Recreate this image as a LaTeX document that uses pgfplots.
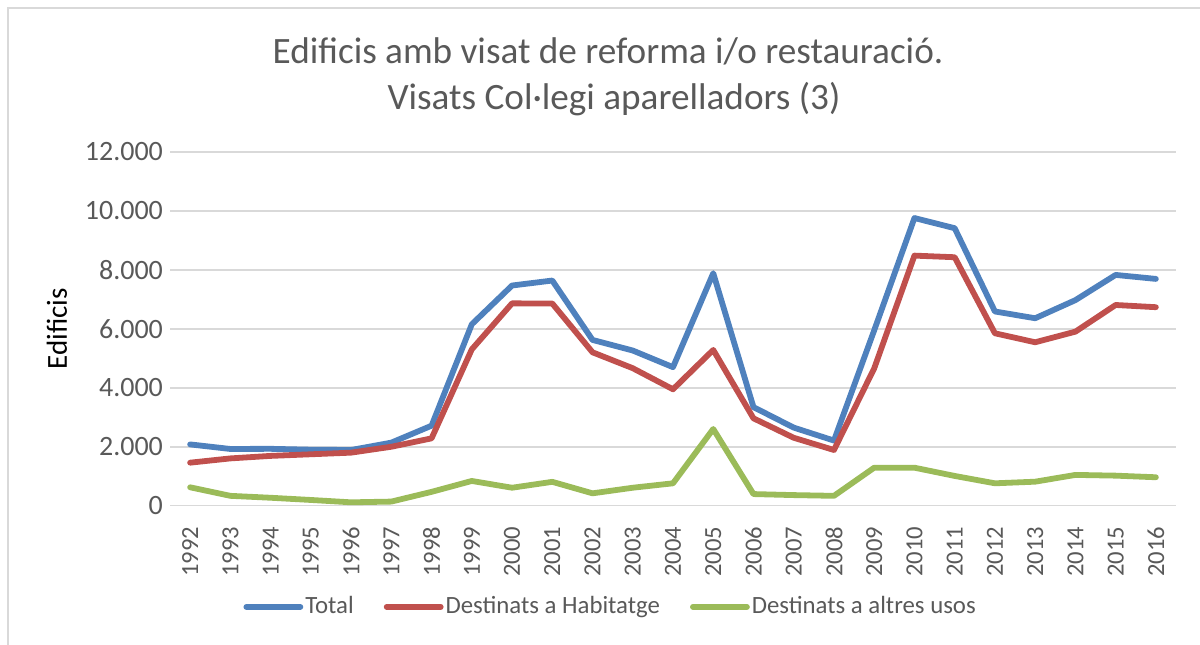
\documentclass[border=0pt]{standalone}
\usepackage{fontspec}
\setmainfont{Carlito}
\usepackage{pgfplots}
\pgfplotsset{compat=1.18}
\definecolor{tblue}{HTML}{4F81BD}
\definecolor{tred}{HTML}{C0504D}
\definecolor{tgreen}{HTML}{9BBB59}
\definecolor{txtgray}{HTML}{595959}
\definecolor{gridgray}{HTML}{D9D9D9}
\begin{document}
\begin{tikzpicture}
\useasboundingbox (0,0) rectangle (600pt,-322pt);
\draw[gridgray, line width=0.75pt] (4pt,-330pt) -- (4pt,-4pt) -- (610pt,-4pt);
\node[anchor=base, text=txtgray, font=\fontsize{18.6}{22}\selectfont, inner sep=0pt] at (304pt,-31.7pt) {Edificis amb visat de reforma i/o restauració.};
\node[anchor=base, text=txtgray, font=\fontsize{18.6}{22}\selectfont, inner sep=0pt] at (307pt,-54.6pt) {Visats Col·legi aparelladors (3)};
\begin{axis}[
  at={(85pt,-252.85pt)}, anchor=south west,
  scale only axis, width=503pt, height=176.85pt,
  xmin=-0.5, xmax=24.5, ymin=0, ymax=12000,
  xtick={0,...,24},
  xticklabels={1992,1993,1994,1995,1996,1997,1998,1999,2000,2001,2002,2003,2004,2005,2006,2007,2008,2009,2010,2011,2012,2013,2014,2015,2016},
  ytick={0,2000,4000,6000,8000,10000,12000},
  /pgf/number format/.cd, 1000 sep={.}, assume math mode=true, /pgfplots/.cd,
  scaled y ticks=false,
  ymajorgrids, grid style={gridgray, line width=0.75pt},
  axis line style={draw=none},
  major tick length=0pt,
  xticklabel shift=7pt,
  xticklabel style={rotate=90, anchor=east, font=\fontsize{12.3}{14}\selectfont, text=txtgray},
  yticklabel style={font=\fontsize{14}{16}\selectfont, text=txtgray},
  ylabel={Edificis},
  ylabel style={at={(axis description cs:-0.1123,0.5)}, anchor=center, font=\fontsize{14.5}{16}\selectfont, text=black},
  legend columns=3,
  legend style={at={(axis description cs:0.438,-0.286)}, anchor=center, draw=none, fill=none,
    font=\fontsize{12.4}{15}\selectfont, text=txtgray,
    nodes={inner xsep=1pt},
    /tikz/every even column/.append style={column sep=14pt}},
  legend image code/.code={\draw[#1, line cap=round] (0pt,0pt) -- (27pt,0pt);},
  every axis plot/.append style={line width=2.9pt, line join=round, line cap=round, mark=none},
]
\addplot[tblue] coordinates {(0,2080)(1,1925)(2,1930)(3,1900)(4,1890)(5,2140)(6,2715)(7,6155)(8,7470)(9,7640)(10,5625)(11,5265)(12,4700)(13,7888)(14,3345)(15,2650)(16,2210)(17,5950)(18,9760)(19,9415)(20,6590)(21,6360)(22,6975)(23,7830)(24,7695)};
\addlegendentry{Total}
\addplot[tred] coordinates {(0,1460)(1,1605)(2,1690)(3,1745)(4,1800)(5,2000)(6,2285)(7,5305)(8,6865)(9,6860)(10,5205)(11,4665)(12,3950)(13,5285)(14,2965)(15,2305)(16,1890)(17,4660)(18,8485)(19,8430)(20,5850)(21,5545)(22,5905)(23,6810)(24,6735)};
\addlegendentry{Destinats a Habitatge}
\addplot[tgreen] coordinates {(0,625)(1,335)(2,270)(3,195)(4,115)(5,140)(6,470)(7,840)(8,610)(9,810)(10,420)(11,610)(12,760)(13,2603)(14,395)(15,360)(16,335)(17,1290)(18,1290)(19,1010)(20,760)(21,815)(22,1045)(23,1020)(24,965)};
\addlegendentry{Destinats a altres usos}
\end{axis}
\end{tikzpicture}
\end{document}
